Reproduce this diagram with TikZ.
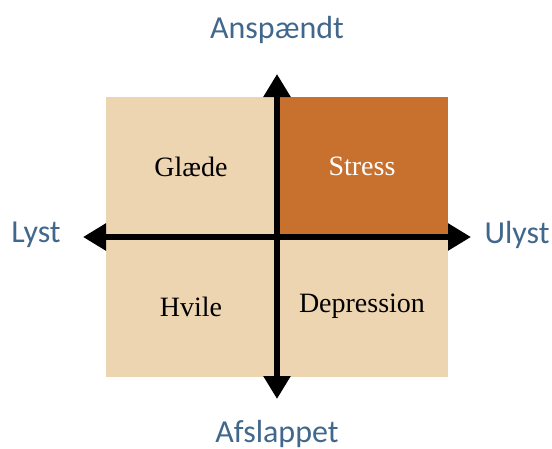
\documentclass[tikz,border=0pt]{standalone}
\usepackage{fontspec}
\setmainfont{Liberation Serif}
\newfontfamily\axisfont{Carlito}
\usetikzlibrary{arrows.meta}
\definecolor{lightquad}{HTML}{EED5B1}
\definecolor{darkquad}{HTML}{C8702E}
\definecolor{axisblue}{HTML}{41688C}
\tikzset{
	quad/.style={rectangle,inner sep=0pt,minimum width=171pt,minimum height=140pt,fill=lightquad,font=\fontsize{28}{32}\selectfont},
	axislabel/.style={anchor=base,text=axisblue,font=\axisfont\fontsize{32}{38}\selectfont},
	axis/.style={line width=5.5pt,{Triangle[length=23pt,width=26pt]}-{Triangle[length=23pt,width=26pt]}}
}
\begin{document}
\begin{tikzpicture}[x=1pt,y=-1pt]
	\useasboundingbox (0,0) rectangle (552,448);
	\node[quad] (glaede) at (191,166.5) {Glæde};
	\node[quad,fill=darkquad,text=white] (stress) at (362,166.5) {Stress};
	\node[quad] (hvile) at (191,306.5) {Hvile};
	\node[quad] (depression) at (362,306.5) {Depression};
	\coordinate (west) at (83,237);
	\coordinate (east) at (471,237);
	\coordinate (north) at (277,74);
	\coordinate (south) at (277,399);
	\draw[axis] (west) -- (east);
	\draw[axis] (south) -- (north);
	\node[axislabel] (anspaendt) at (277,38) {Anspændt};
	\node[axislabel] (afslappet) at (277,442) {Afslappet};
	\node[axislabel] (lyst) at (36,242) {Lyst};
	\node[axislabel] (ulyst) at (517,243) {Ulyst};
\end{tikzpicture}
\end{document}
